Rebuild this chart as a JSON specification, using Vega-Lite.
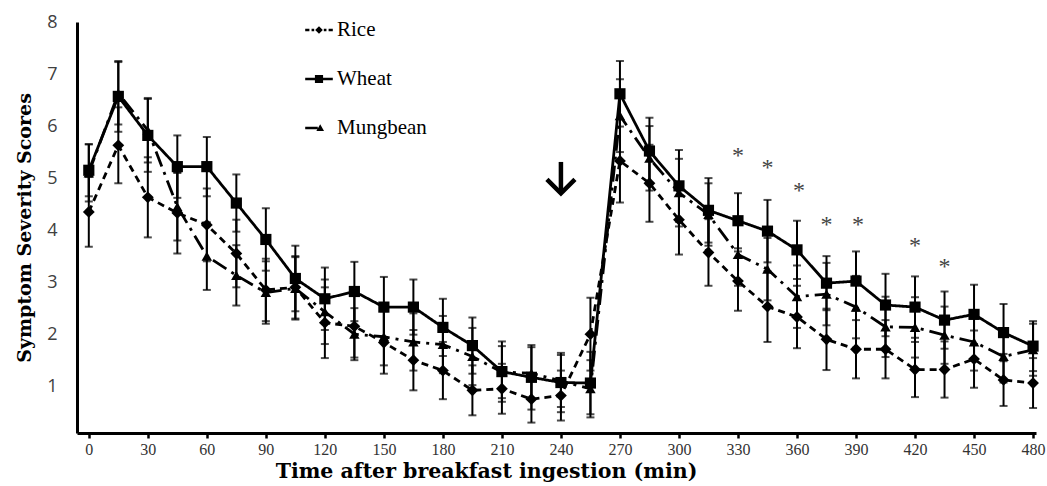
{
  "$schema": "https://vega.github.io/schema/vega-lite/v6.json",
  "width": 959,
  "height": 411,
  "autosize": "none",
  "padding": {"left": 77, "top": 22, "right": 11, "bottom": 53},
  "background": "white",
  "config": {"view": {"stroke": null}},
  "resolve": {"scale": {"shape": "independent"}, "legend": {"shape": "independent"}},
  "datasets": {
    "d": [
      {"t":0,"s":"Rice","v":4.35,"e":0.67},{"t":15,"s":"Rice","v":5.63,"e":0.73},{"t":30,"s":"Rice","v":4.63,"e":0.77},{"t":45,"s":"Rice","v":4.33,"e":0.78},{"t":60,"s":"Rice","v":4.1,"e":0.7},{"t":75,"s":"Rice","v":3.55,"e":0.65},{"t":90,"s":"Rice","v":2.85,"e":0.6},{"t":105,"s":"Rice","v":2.9,"e":0.6},{"t":120,"s":"Rice","v":2.22,"e":0.68},{"t":135,"s":"Rice","v":2.15,"e":0.6},{"t":150,"s":"Rice","v":1.84,"e":0.6},{"t":165,"s":"Rice","v":1.5,"e":0.58},{"t":180,"s":"Rice","v":1.3,"e":0.55},{"t":195,"s":"Rice","v":0.92,"e":0.48},{"t":210,"s":"Rice","v":0.95,"e":0.48},{"t":225,"s":"Rice","v":0.75,"e":0.45},{"t":240,"s":"Rice","v":0.82,"e":0.48},{"t":255,"s":"Rice","v":2.0,"e":0.7},{"t":270,"s":"Rice","v":5.33,"e":0.8},{"t":285,"s":"Rice","v":4.9,"e":0.74},{"t":300,"s":"Rice","v":4.2,"e":0.67},{"t":315,"s":"Rice","v":3.57,"e":0.64},{"t":330,"s":"Rice","v":3.02,"e":0.57},{"t":345,"s":"Rice","v":2.53,"e":0.68},{"t":360,"s":"Rice","v":2.33,"e":0.6},{"t":375,"s":"Rice","v":1.9,"e":0.59},{"t":390,"s":"Rice","v":1.71,"e":0.56},{"t":405,"s":"Rice","v":1.71,"e":0.56},{"t":420,"s":"Rice","v":1.32,"e":0.53},{"t":435,"s":"Rice","v":1.32,"e":0.54},{"t":450,"s":"Rice","v":1.52,"e":0.55},{"t":465,"s":"Rice","v":1.12,"e":0.5},{"t":480,"s":"Rice","v":1.06,"e":0.48},
      {"t":0,"s":"Wheat","v":5.15,"e":0.5},{"t":15,"s":"Wheat","v":6.57,"e":0.68},{"t":30,"s":"Wheat","v":5.82,"e":0.7},{"t":45,"s":"Wheat","v":5.22,"e":0.6},{"t":60,"s":"Wheat","v":5.22,"e":0.57},{"t":75,"s":"Wheat","v":4.52,"e":0.55},{"t":90,"s":"Wheat","v":3.82,"e":0.6},{"t":105,"s":"Wheat","v":3.07,"e":0.63},{"t":120,"s":"Wheat","v":2.68,"e":0.6},{"t":135,"s":"Wheat","v":2.82,"e":0.57},{"t":150,"s":"Wheat","v":2.52,"e":0.58},{"t":165,"s":"Wheat","v":2.52,"e":0.53},{"t":180,"s":"Wheat","v":2.13,"e":0.55},{"t":195,"s":"Wheat","v":1.78,"e":0.54},{"t":210,"s":"Wheat","v":1.28,"e":0.58},{"t":225,"s":"Wheat","v":1.17,"e":0.62},{"t":240,"s":"Wheat","v":1.07,"e":0.57},{"t":255,"s":"Wheat","v":1.06,"e":0.6},{"t":270,"s":"Wheat","v":6.62,"e":0.63},{"t":285,"s":"Wheat","v":5.52,"e":0.64},{"t":300,"s":"Wheat","v":4.85,"e":0.69},{"t":315,"s":"Wheat","v":4.38,"e":0.62},{"t":330,"s":"Wheat","v":4.18,"e":0.53},{"t":345,"s":"Wheat","v":3.98,"e":0.6},{"t":360,"s":"Wheat","v":3.62,"e":0.56},{"t":375,"s":"Wheat","v":2.98,"e":0.52},{"t":390,"s":"Wheat","v":3.02,"e":0.57},{"t":405,"s":"Wheat","v":2.56,"e":0.6},{"t":420,"s":"Wheat","v":2.52,"e":0.59},{"t":435,"s":"Wheat","v":2.27,"e":0.55},{"t":450,"s":"Wheat","v":2.38,"e":0.57},{"t":465,"s":"Wheat","v":2.03,"e":0.55},{"t":480,"s":"Wheat","v":1.77,"e":0.48},
      {"t":0,"s":"Mungbean","v":5.1,"e":0.55},{"t":15,"s":"Mungbean","v":6.63,"e":0.6},{"t":30,"s":"Mungbean","v":5.92,"e":0.62},{"t":45,"s":"Mungbean","v":4.45,"e":0.65},{"t":60,"s":"Mungbean","v":3.5,"e":0.65},{"t":75,"s":"Mungbean","v":3.13,"e":0.58},{"t":90,"s":"Mungbean","v":2.8,"e":0.6},{"t":105,"s":"Mungbean","v":2.88,"e":0.6},{"t":120,"s":"Mungbean","v":2.43,"e":0.62},{"t":135,"s":"Mungbean","v":2.0,"e":0.5},{"t":150,"s":"Mungbean","v":1.95,"e":0.55},{"t":165,"s":"Mungbean","v":1.85,"e":0.55},{"t":180,"s":"Mungbean","v":1.8,"e":0.55},{"t":195,"s":"Mungbean","v":1.57,"e":0.55},{"t":210,"s":"Mungbean","v":1.27,"e":0.5},{"t":225,"s":"Mungbean","v":1.25,"e":0.5},{"t":240,"s":"Mungbean","v":1.1,"e":0.5},{"t":255,"s":"Mungbean","v":0.95,"e":0.55},{"t":270,"s":"Mungbean","v":6.2,"e":0.7},{"t":285,"s":"Mungbean","v":5.38,"e":0.62},{"t":300,"s":"Mungbean","v":4.72,"e":0.65},{"t":315,"s":"Mungbean","v":4.3,"e":0.6},{"t":330,"s":"Mungbean","v":3.53,"e":0.6},{"t":345,"s":"Mungbean","v":3.25,"e":0.6},{"t":360,"s":"Mungbean","v":2.72,"e":0.6},{"t":375,"s":"Mungbean","v":2.77,"e":0.6},{"t":390,"s":"Mungbean","v":2.52,"e":0.6},{"t":405,"s":"Mungbean","v":2.14,"e":0.58},{"t":420,"s":"Mungbean","v":2.13,"e":0.58},{"t":435,"s":"Mungbean","v":1.98,"e":0.55},{"t":450,"s":"Mungbean","v":1.85,"e":0.55},{"t":465,"s":"Mungbean","v":1.57,"e":0.5},{"t":480,"s":"Mungbean","v":1.7,"e":0.5}
    ],
    "stars": [
      {"t":330,"v":5.54},{"t":345,"v":5.3},{"t":361,"v":4.87},{"t":375,"v":4.21},{"t":391,"v":4.21},{"t":420,"v":3.81},{"t":435,"v":3.41}
    ],
    "arrow": [{"t":240,"v":5.31,"v2":4.75}],
    "arrowhead": [{"t":240,"v":4.84}]
  },
  "encoding": {
    "x": {
      "field": "t", "type": "quantitative",
      "scale": {"domain": [-6, 481.5], "nice": false, "zero": false},
      "axis": {
        "values": [0,30,60,90,120,150,180,210,240,270,300,330,360,390,420,450,480],
        "title": "Time after breakfast ingestion (min)",
        "grid": false, "domainWidth": 3, "domainColor": "black",
        "tickColor": "black", "tickWidth": 2.5, "tickSize": 5,
        "labelFont": "Liberation Serif", "labelFontSize": 16, "labelColor": "#333",
        "labelPadding": 3, "labelOverlap": false, "labelFlush": false,
        "titleFont": "DejaVu Serif", "titleFontSize": 20.5, "titleFontWeight": "bold", "titleColor": "black",
        "titleX": 409, "titleY": 28, "titleAnchor": "middle", "titleBaseline": "top"
      }
    },
    "y": {
      "field": "v", "type": "quantitative",
      "scale": {"domain": [0.1, 8], "nice": false, "zero": false},
      "axis": {
        "values": [1,2,3,4,5,6,7,8],
        "title": "Symptom Severity Scores",
        "grid": false, "ticks": false, "domainWidth": 3, "domainColor": "black",
        "labelFont": "Open Sans", "labelFontSize": 18, "labelColor": "#404040",
        "labelPadding": 20, "labelFlush": false,
        "titleFont": "DejaVu Serif", "titleFontSize": 19, "titleFontWeight": "bold", "titleColor": "black",
        "titlePadding": 12
      }
    }
  },
  "layer": [
    {
      "data": {"name": "d"},
      "mark": {"type": "errorbar", "color": "black", "ticks": {"size": 8, "thickness": 2, "color": "black"}, "rule": {"strokeWidth": 2, "color": "black"}},
      "encoding": {"yError": {"field": "e"}, "detail": {"field": "s"}}
    },
    {
      "data": {"name": "d"},
      "mark": {"type": "line", "color": "black", "strokeWidth": 2.8},
      "encoding": {
        "strokeDash": {"field": "s", "type": "nominal",
          "scale": {"domain": ["Wheat","Mungbean","Rice"], "range": [[1,0],[16,6,3,6],[7,5]]},
          "legend": null}
      }
    },
    {
      "data": {"name": "d"},
      "mark": {"type": "point", "filled": true, "color": "black", "opacity": 1},
      "encoding": {
        "size": {"field": "s", "type": "nominal", "scale": {"domain": ["Mungbean","Wheat","Rice"], "range": [110,140,70]}, "legend": null},
        "shape": {"field": "s", "type": "nominal",
          "scale": {"domain": ["Rice","Mungbean","Wheat"], "range": ["diamond","triangle-up","square"]},
          "legend": null}
      }
    },
    {
      "data": {"values": []},
      "mark": {"type": "point", "filled": true, "color": "black", "opacity": 1},
      "encoding": {
        "shape": {"field": "s", "type": "nominal",
          "scale": {"domain": ["Rice","Wheat","Mungbean"], "range": [
            "M-1.15,-0.1H-0.8V0.1H-1.15ZM-0.62,-0.1H-0.4V0.1H-0.62ZM0.4,-0.1H0.62V0.1H0.4ZM0.8,-0.1H1.15V0.1H0.8ZM0,-0.32L0.32,0L0,0.32L-0.32,0Z",
            "M-1.15,-0.1H1.15V0.1H-1.15ZM-0.34,-0.34H0.34V0.34H-0.34Z",
            "M-1.15,-0.1H-0.1V0.1H-1.15ZM0.1,-0.32L0.42,0.26L-0.22,0.26Z"]},
          "legend": {
            "orient": "none", "legendX": 229, "legendY": -5, "title": null, "padding": 0,
            "labelFont": "Liberation Serif", "labelFontSize": 21, "labelColor": "black",
            "rowPadding": 26, "symbolSize": 576, "labelOffset": 5, "symbolOpacity": 1,
            "symbolFillColor": "black"
          }
        }
      }
    },
    {
      "data": {"name": "stars"},
      "mark": {"type": "text", "text": "*", "font": "Liberation Serif", "fontSize": 24, "color": "#444", "baseline": "middle", "dy": 6}
    },
    {
      "data": {"name": "arrow"},
      "mark": {"type": "rule", "strokeWidth": 4.5, "color": "black"},
      "encoding": {"y2": {"field": "v2"}}
    },
    {
      "data": {"name": "arrowhead"},
      "mark": {"type": "point", "shape": "M-1,-0.5L0,0.5L1,-0.5", "size": 784, "filled": false, "strokeWidth": 4.5, "color": "black", "opacity": 1, "strokeJoin": "miter"}
    }
  ]
}
